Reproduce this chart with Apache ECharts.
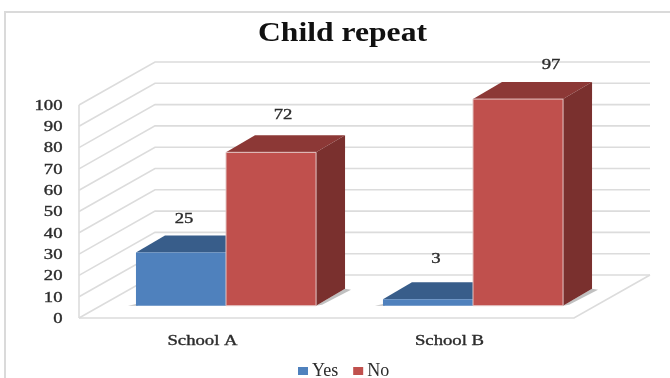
<!DOCTYPE html>
<html>
<head>
<meta charset="utf-8">
<style>html,body{margin:0;padding:0;background:#fff}#chart{width:670px;height:378px}</style>
<script src="https://cdn.jsdelivr.net/npm/echarts@6/dist/echarts.min.js"></script>
</head>
<body>
<div id="chart"></div>
<script>
const titleText = 'Child repeat';
const categories = ['School A', 'School B'];
const seriesNames = ['Yes', 'No'];
const yesValues = [25, 3];
const noValues = [72, 97];
const valueTicks = [0, 10, 20, 30, 40, 50, 60, 70, 80, 90, 100];

// Hand-placed nudges for the value labels, one per category: [dx, dy]
const yesLabelNudge = [[3, -33], [8, -40]];
const noLabelNudge = [[12, -37], [33, -34]];

const FONT = '"Liberation Serif", "Times New Roman", serif';
const TEXT = '#2b2b2b';
const WIDE = 1.29;             // horizontal stretch of the chart lettering
const WALL_LINE = '#dcdcdc';
const DEPTH = [76, -43];       // floor depth, front edge to back wall
const BAR_DEPTH = [29, -17];   // depth of a single column
const COLORS = {
  Yes: { front: '#4f81bd', top: '#385d8a', side: '#2f5078' },
  No: { front: '#c0504d', top: '#8c3836', side: '#7a302e' }
};

const chart = echarts.init(document.getElementById('chart'), null, { renderer: 'canvas' });

function wideText(x, y, text, align, size) {
  return {
    type: 'text',
    x: x,
    y: y,
    scaleX: WIDE,
    style: {
      text: text,
      fill: TEXT,
      stroke: TEXT,
      lineWidth: 0.35,
      font: size + 'px ' + FONT,
      align: align,
      verticalAlign: 'middle'
    }
  };
}

// Walls and floor: gridlines run along the back wall, then slant to the front-left edge
function renderWall(params, api) {
  const v = api.value(0);
  const left = api.coord([0, v]);
  const right = api.coord([1, v]);
  const front = [left[0] - DEPTH[0], left[1] - DEPTH[1]];
  const lineStyle = { stroke: WALL_LINE, lineWidth: 1.6, fill: null };
  const children = [
    { type: 'polyline', shape: { points: [front, left, right] }, style: lineStyle, silent: true }
  ];
  if (v === 0) {
    const top = api.coord([0, valueTicks[valueTicks.length - 1]]);
    children.push(
      { type: 'polyline', shape: { points: [front, [right[0] - DEPTH[0], right[1] - DEPTH[1]], right] }, style: lineStyle, silent: true },
      { type: 'line', shape: { x1: front[0], y1: front[1], x2: top[0] - DEPTH[0], y2: top[1] - DEPTH[1] }, style: lineStyle, silent: true }
    );
  }
  return { type: 'group', children };
}

// Value axis numbers, placed by the front-plane scale
function renderTickLabel(params, api) {
  const v = api.value(1);
  const p = api.coord([0, v]);
  return wideText(params.coordSys.x - 16.5, p[1] + 1, String(v), 'right', 14.5);
}

// Category names under the floor
function renderCategoryLabel(params, api) {
  const i = api.value(0);
  const p = api.coord([i, 0]);
  return wideText(p[0], p[1] + 23, categories[i], 'center', 14.5);
}

// Column drawn as three faces, sharing an edge with its neighbour in the same band
function makeColumnRenderer(name, index, nudges) {
  const c = COLORS[name];
  return function (params, api) {
    const cat = api.value(0);
    const val = api.value(1);
    const base = api.coord([cat, 0]);
    const head = api.coord([cat, val]);
    const w = api.size([1, 0])[0] * 0.3645;
    const x0 = base[0] + (index === 0 ? -w : 0);
    const x1 = x0 + w;
    const yB = base[1];
    const yT = head[1];
    const dx = BAR_DEPTH[0], dy = BAR_DEPTH[1];
    const shadow = index === 0
      ? [[x0 - 8, yB], [x0 + 2, yB - 2], [x0 + 2, yB]]
      : [[x1, yB], [x1 + dx, yB + dy], [x1 + dx + 6, yB + dy + 1], [x1 + 6, yB - 1]];
    const children = [
      { type: 'polygon', shape: { points: shadow }, style: { fill: '#8c8c8c', opacity: 0.55 } },
      { type: 'polygon', shape: { points: [[x0, yT], [x0 + dx, yT + dy], [x1 + dx, yT + dy], [x1, yT]] }, style: { fill: c.top } },
      { type: 'polygon', shape: { points: [[x1, yT], [x1 + dx, yT + dy], [x1 + dx, yB + dy], [x1, yB]] }, style: { fill: c.side } },
      { type: 'rect', shape: { x: x0, y: yT, width: w, height: yB - yT }, style: { fill: c.front, stroke: '#e3c4c3', lineWidth: index === 1 ? 1 : 0 } },
      wideText((x0 + x1) / 2 + nudges[cat][0], yT + nudges[cat][1], String(val), 'center', 14.5)
    ];
    return { type: 'group', children };
  };
}

const hiddenAxisBits = { axisLine: { show: false }, axisTick: { show: false }, axisLabel: { show: false }, splitLine: { show: false } };

chart.setOption({
  animation: false,
  backgroundColor: '#ffffff',
  legend: {
    data: seriesNames,
    left: 293,
    top: 357,
    itemWidth: 10,
    itemHeight: 8,
    itemGap: 15,
    icon: 'rect',
    textStyle: { fontFamily: FONT, fontSize: 18, color: TEXT, padding: [0, 0, 0, -1] }
  },
  grid: [
    // front plane: carries the axis lettering
    { left: 79, top: 105, width: 494, height: 213 },
    // back wall
    { left: 155, top: 62, width: 495, height: 213 },
    // plane the columns stand on
    { left: 102.5, top: 92.7, width: 494, height: 213 }
  ],
  xAxis: [
    { gridIndex: 0, type: 'category', data: categories, ...hiddenAxisBits },
    { gridIndex: 1, type: 'value', min: 0, max: 1, ...hiddenAxisBits },
    { gridIndex: 2, type: 'category', data: categories, ...hiddenAxisBits }
  ],
  yAxis: [
    { gridIndex: 0, type: 'value', min: 0, max: 100, interval: 10, ...hiddenAxisBits },
    { gridIndex: 1, type: 'value', min: 0, max: 100, interval: 10, ...hiddenAxisBits },
    { gridIndex: 2, type: 'value', min: 0, max: 100, interval: 10, ...hiddenAxisBits }
  ],
  series: [
    {
      type: 'custom', name: 'wall', xAxisIndex: 1, yAxisIndex: 1, silent: true, z: 1,
      renderItem: renderWall,
      clip: false,
      data: valueTicks.map(v => [v]),
      encode: { y: 0 }
    },
    {
      type: 'custom', name: 'ticks', xAxisIndex: 0, yAxisIndex: 0, silent: true, z: 4,
      renderItem: renderTickLabel,
      clip: false,
      data: valueTicks.map(v => [0, v]),
      encode: { x: 0, y: 1 }
    },
    {
      type: 'custom', name: 'categories', xAxisIndex: 0, yAxisIndex: 0, silent: true, z: 4,
      renderItem: renderCategoryLabel,
      clip: false,
      data: categories.map((c, i) => [i, 0]),
      encode: { x: 0, y: 1 }
    },
    {
      type: 'custom', name: seriesNames[0], xAxisIndex: 2, yAxisIndex: 2, z: 2,
      renderItem: makeColumnRenderer(seriesNames[0], 0, yesLabelNudge),
      clip: false,
      itemStyle: { color: COLORS.Yes.front },
      data: categories.map((c, i) => [i, yesValues[i]]),
      encode: { x: 0, y: 1 }
    },
    {
      type: 'custom', name: seriesNames[1], xAxisIndex: 2, yAxisIndex: 2, z: 3,
      renderItem: makeColumnRenderer(seriesNames[1], 1, noLabelNudge),
      clip: false,
      itemStyle: { color: COLORS.No.front },
      data: categories.map((c, i) => [i, noValues[i]]),
      encode: { x: 0, y: 1 }
    }
  ],
  graphic: [
    // outer chart frame, open towards the right and bottom edges
    { type: 'polyline', z: 0, silent: true, shape: { points: [[5, 378], [5, 12], [670, 12]] }, style: { fill: null, stroke: '#dadada', lineWidth: 2 } },
    {
      type: 'text', z: 5, x: 342.5, y: 33.5, scaleX: 1.13,
      style: { text: titleText, fill: '#111111', font: 'bold 28px ' + FONT, align: 'center', verticalAlign: 'middle' }
    }
  ]
});
</script>
</body>
</html>
